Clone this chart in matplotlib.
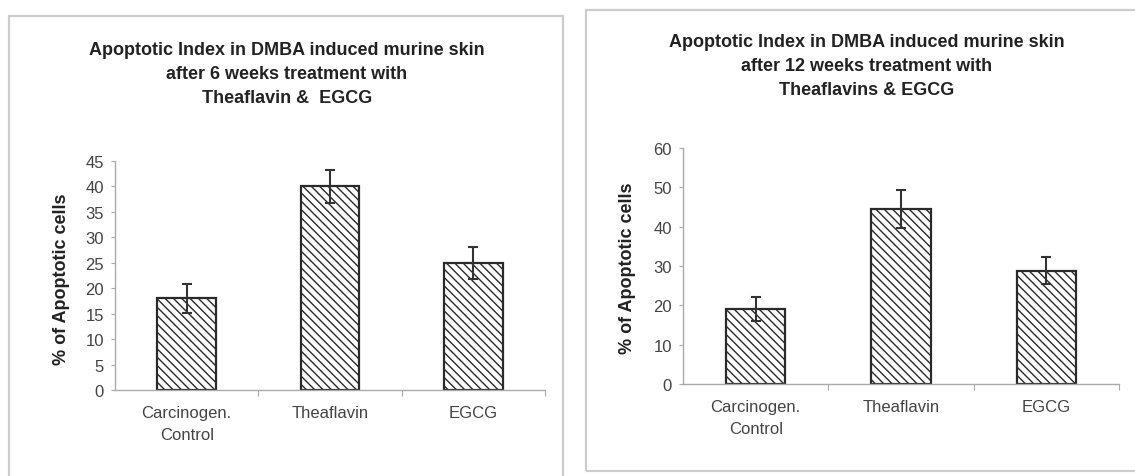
import matplotlib
matplotlib.use("Agg")
import matplotlib.pyplot as plt
from matplotlib.patches import Rectangle

plt.rcParams['font.family'] = ['Liberation Sans', 'DejaVu Sans']
plt.rcParams['hatch.linewidth'] = 1.0
plt.rcParams['hatch.color'] = '#333333'

categories = ['Carcinogen.\nControl', 'Theaflavin', 'EGCG']

# 6 weeks
values_6wk = [18, 40, 25]
errors_6wk = [2.8, 3.3, 3.1]
yticks_6wk = [0, 5, 10, 15, 20, 25, 30, 35, 40, 45]
title_6wk = 'Apoptotic Index in DMBA induced murine skin\nafter 6 weeks treatment with\nTheaflavin &  EGCG'

# 12 weeks
values_12wk = [19, 44.5, 28.8]
errors_12wk = [3.0, 4.9, 3.5]
yticks_12wk = [0, 10, 20, 30, 40, 50, 60]
title_12wk = 'Apoptotic Index in DMBA induced murine skin\nafter 12 weeks treatment with\nTheaflavins & EGCG'

W, H = 1135, 477
fig = plt.figure(figsize=(W / 100, H / 100), dpi=100)
fig.patch.set_facecolor('white')


def px_rect(x0, y_top, x1, y_bot):
    return [x0 / W, 1 - y_bot / H, (x1 - x0) / W, (y_bot - y_top) / H]


# panel frames
for (x0, y0, x1, y1) in [(9, 17, 563, 490), (586, 11, 1145, 472)]:
    fig.patches.append(Rectangle((x0 / W, 1 - y1 / H), (x1 - x0) / W, (y1 - y0) / H,
                                 transform=fig.transFigure, fill=False,
                                 edgecolor='#cccccc', linewidth=1.6))


def draw_panel(rect, values, errors, yticks, title, title_x, title_y, ylabel_x, ylabel_y):
    ax = fig.add_axes(rect)
    x = range(len(categories))
    ax.bar(x, values, width=0.41, color='white', edgecolor='#2a2a2a',
           linewidth=1.6, hatch='\\\\\\\\', zorder=2)
    ax.errorbar(x, values, yerr=errors, fmt='none', ecolor='#333333',
                elinewidth=1.5, capsize=3.8, capthick=1.5, zorder=3)
    ax.set_xlim(-0.5, len(categories) - 0.5)
    ax.set_ylim(yticks[0], yticks[-1])
    ax.set_yticks(yticks)
    ax.set_xticks([0.5, 1.5, 2.5], minor=False)
    ax.set_xticklabels([])
    ax.set_xticks(list(x), minor=True)
    ax.set_xticklabels(categories, minor=True, linespacing=1.6)
    ax.tick_params(axis='x', which='minor', length=0, pad=11,
                   labelsize=12, labelcolor='#444444')
    ax.tick_params(axis='x', which='major', length=4, color='#aaaaaa', direction='out')
    ax.tick_params(axis='y', length=3, color='#aaaaaa', labelsize=12,
                   labelcolor='#444444', pad=5)
    for s in ['top', 'right']:
        ax.spines[s].set_visible(False)
    for s in ['left', 'bottom']:
        ax.spines[s].set_color('#aaaaaa')
        ax.spines[s].set_linewidth(1.0)
    ax.patch.set_alpha(0)
    fig.text(title_x / W, 1 - title_y / H, title, ha='center', va='top',
             fontsize=13, fontweight='bold', color='#222222', linespacing=1.55)
    fig.text(ylabel_x / W, 1 - ylabel_y / H, '% of Apoptotic cells',
             rotation=90, ha='center', va='center', fontsize=13,
             fontweight='bold', color='#222222')
    return ax


draw_panel(px_rect(115, 162, 545, 391), values_6wk, errors_6wk, yticks_6wk,
           title_6wk, 287, 42, 61, 279)
draw_panel(px_rect(683, 149, 1119, 385), values_12wk, errors_12wk, yticks_12wk,
           title_12wk, 867, 34, 627, 268)

fig.savefig('out.png', dpi=100, facecolor='white')
